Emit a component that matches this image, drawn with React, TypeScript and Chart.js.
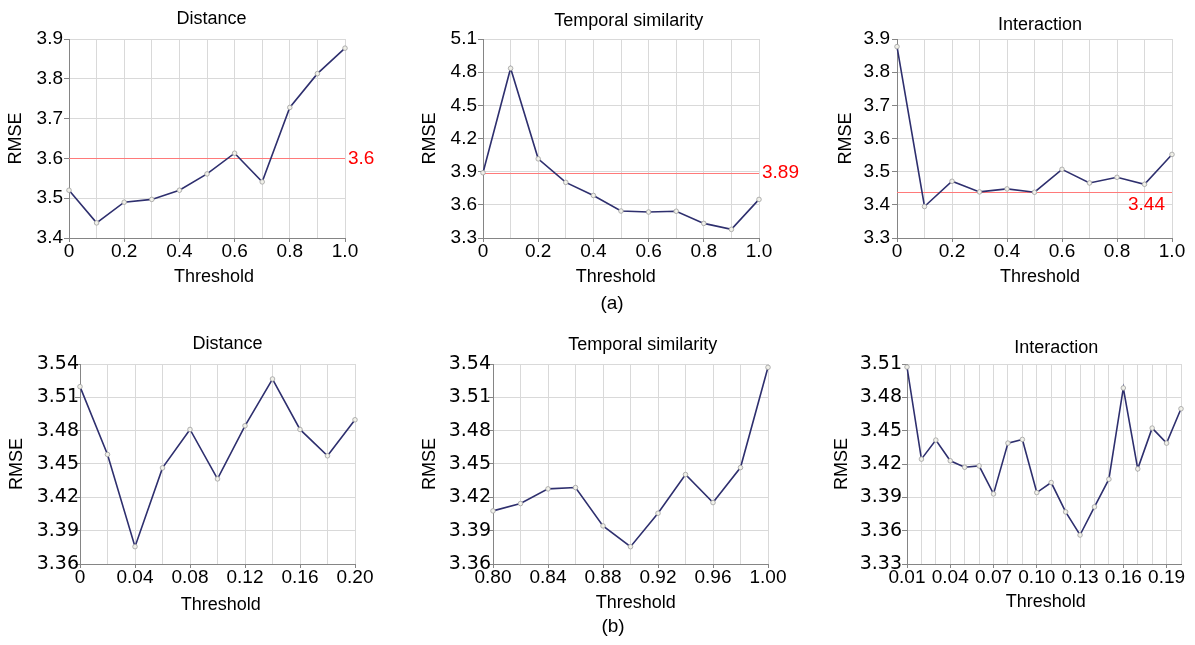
import React, { useEffect, useRef } from 'react';
import { Chart, registerables } from 'chart.js';

Chart.register(...registerables);

const FONT = '"Liberation Sans", Arial, Helvetica, sans-serif';
const WIDE_FONT = '"DejaVu Sans", "Liberation Sans", sans-serif';

// ---------- data: row (a) ----------
const thresholdsA = ['0', '0.1', '0.2', '0.3', '0.4', '0.5', '0.6', '0.7', '0.8', '0.9', '1.0'];
const tickLabelsA = ['0', '0.2', '0.4', '0.6', '0.8', '1.0'];
const distanceA = [3.52, 3.438, 3.49, 3.497, 3.52, 3.561, 3.613, 3.541, 3.728, 3.813, 3.877];
const temporalA = [3.89, 4.835, 4.016, 3.803, 3.685, 3.544, 3.535, 3.542, 3.432, 3.378, 3.649];
const interactionA = [3.877, 3.395, 3.471, 3.439, 3.448, 3.438, 3.507, 3.466, 3.483, 3.462, 3.552];
const referenceA = [3.6, 3.89, 3.44];

// ---------- data: row (b) ----------
const thresholdsDistB = ['0', '0.02', '0.04', '0.06', '0.08', '0.10', '0.12', '0.14', '0.16', '0.18', '0.20'];
const tickLabelsDistB = ['0', '0.04', '0.08', '0.12', '0.16', '0.20'];
const distanceB = [3.5196, 3.4586, 3.3756, 3.4465, 3.4811, 3.4366, 3.4844, 3.5265, 3.4811, 3.4574, 3.4898];

const thresholdsTempB = ['0.80', '0.82', '0.84', '0.86', '0.88', '0.90', '0.92', '0.94', '0.96', '0.98', '1.00'];
const tickLabelsTempB = ['0.80', '0.84', '0.88', '0.92', '0.96', '1.00'];
const temporalB = [3.4078, 3.4144, 3.4276, 3.4288, 3.3943, 3.3756, 3.4057, 3.4405, 3.4153, 3.4468, 3.537];

const thresholdsIntB = ['0.01', '0.02', '0.03', '0.04', '0.05', '0.06', '0.07', '0.08', '0.09', '0.10',
  '0.11', '0.12', '0.13', '0.14', '0.15', '0.16', '0.17', '0.18', '0.19', '0.20'];
const tickLabelsIntB = ['0.01', '0.04', '0.07', '0.10', '0.13', '0.16', '0.19'];
const interactionB = [3.5073, 3.4244, 3.4415, 3.4229, 3.4171, 3.4183, 3.3931, 3.4388, 3.4421, 3.3943,
  3.4033, 3.3769, 3.3561, 3.3814, 3.4063, 3.4884, 3.4156, 3.4523, 3.4388, 3.4697];

const panelTitles = ['Distance', 'Temporal similarity', 'Interaction'];
const xAxisTitle = 'Threshold';
const yAxisTitle = 'RMSE';
const subLabels = ['(a)', '(b)'];

type Panel = {
  title: string;
  labels: string[];
  shown: string[];
  values: number[];
  yMin: number; yMax: number; yStep: number; yDigits: number;
  ref?: number; refPos?: 'right' | 'below';
  yFont: string; yPad: number;
  // geometry (page px)
  cl: number; ct: number; cw: number; ch: number;
  pl: number; pt: number; pr: number; pb: number;
  yTitleX: number; xTitleX: number; xTitleY: number; titleX: number; titleY: number;
};

const panels: Panel[] = [
  {
    title: panelTitles[0], labels: thresholdsA, shown: tickLabelsA, values: distanceA,
    yMin: 3.4, yMax: 3.9, yStep: 0.1, yDigits: 1, ref: referenceA[0], refPos: 'right',
    yFont: FONT, yPad: 1,
    cl: 0, ct: 0, cw: 400, ch: 300, pl: 69, pt: 39, pr: 345, pb: 238,
    yTitleX: 15.8, xTitleX: 214, xTitleY: 277.3, titleX: 211.5, titleY: 18.7,
  },
  {
    title: panelTitles[1], labels: thresholdsA, shown: tickLabelsA, values: temporalA,
    yMin: 3.3, yMax: 5.1, yStep: 0.3, yDigits: 1, ref: referenceA[1], refPos: 'right',
    yFont: FONT, yPad: 1,
    cl: 405, ct: 0, cw: 395, ch: 300, pl: 483, pt: 39, pr: 759, pb: 238,
    yTitleX: 430, xTitleX: 615.8, xTitleY: 277.3, titleX: 628.8, titleY: 21,
  },
  {
    title: panelTitles[2], labels: thresholdsA, shown: tickLabelsA, values: interactionA,
    yMin: 3.3, yMax: 3.9, yStep: 0.1, yDigits: 1, ref: referenceA[2], refPos: 'below',
    yFont: FONT, yPad: 2,
    cl: 815, ct: 0, cw: 380, ch: 300, pl: 897, pt: 39, pr: 1172, pb: 238,
    yTitleX: 845.8, xTitleX: 1040, xTitleY: 277, titleX: 1040, titleY: 25,
  },
  {
    title: panelTitles[0], labels: thresholdsDistB, shown: tickLabelsDistB, values: distanceB,
    yMin: 3.36, yMax: 3.54, yStep: 0.03, yDigits: 2,
    yFont: WIDE_FONT, yPad: -4,
    cl: 0, ct: 320, cw: 400, ch: 325, pl: 80, pt: 364, pr: 355, pb: 564,
    yTitleX: 17.5, xTitleX: 220.8, xTitleY: 605, titleX: 227.5, titleY: 343.7,
  },
  {
    title: panelTitles[1], labels: thresholdsTempB, shown: tickLabelsTempB, values: temporalB,
    yMin: 3.36, yMax: 3.54, yStep: 0.03, yDigits: 2,
    yFont: WIDE_FONT, yPad: -3,
    cl: 405, ct: 320, cw: 395, ch: 325, pl: 493, pt: 364, pr: 768, pb: 564,
    yTitleX: 430.3, xTitleX: 635.8, xTitleY: 603.3, titleX: 642.8, titleY: 345.3,
  },
  {
    title: panelTitles[2], labels: thresholdsIntB, shown: tickLabelsIntB, values: interactionB,
    yMin: 3.33, yMax: 3.51, yStep: 0.03, yDigits: 2,
    yFont: WIDE_FONT, yPad: 0,
    cl: 815, ct: 320, cw: 380, ch: 325, pl: 907, pt: 364, pr: 1181, pb: 564,
    yTitleX: 842.5, xTitleX: 1045.8, xTitleY: 602.5, titleX: 1056.3, titleY: 348.3,
  },
];

const AXIS_COLOR = '#858585';
const GRID_COLOR = '#d9d9d9';
const LINE_COLOR = '#2e2f6e';
const REF_LINE = '#ff7a7a';
const REF_TEXT = '#ff0000';
const TICK_SIZE = 19;
const TITLE_SIZE = 18;
const LH = TITLE_SIZE * 1.2;

const decorPlugin = {
  id: 'decor',
  beforeDatasetsDraw(chart: any, _a: any, opts: any) {
    if (opts.ref == null) return;
    const { ctx, chartArea } = chart;
    const y = Math.round(chart.scales.y.getPixelForValue(opts.ref)) + 0.5;
    ctx.save();
    ctx.strokeStyle = REF_LINE;
    ctx.lineWidth = 1;
    ctx.beginPath();
    ctx.moveTo(chartArea.left, y);
    ctx.lineTo(chartArea.right, y);
    ctx.stroke();
    ctx.restore();
  },
  afterDraw(chart: any, _a: any, opts: any) {
    const { ctx, chartArea } = chart;
    ctx.save();
    ctx.fillStyle = '#000';
    ctx.font = `${TITLE_SIZE}px ${FONT}`;
    ctx.textAlign = 'center';
    ctx.textBaseline = 'middle';
    ctx.fillText(opts.title, opts.titleX, opts.titleY);
    ctx.fillText(opts.xTitle, opts.xTitleX, opts.xTitleY);
    if (opts.ref != null) {
      const y = chart.scales.y.getPixelForValue(opts.ref);
      ctx.fillStyle = REF_TEXT;
      ctx.font = `${TICK_SIZE}px ${FONT}`;
      if (opts.refPos === 'right') {
        ctx.textAlign = 'left';
        ctx.fillText(String(opts.ref), chartArea.right + 3, y);
      } else {
        ctx.textAlign = 'right';
        ctx.fillText(String(opts.ref), chartArea.right - 7, y + 13);
      }
    }
    ctx.restore();
  },
};

function PanelChart({ p }: { p: Panel }) {
  const ref = useRef<HTMLCanvasElement | null>(null);
  useEffect(() => {
    if (!ref.current) return;
    const yW = p.pl - p.cl;
    const xH = p.ct + p.ch - p.pb;
    const chart = new Chart(ref.current, {
      type: 'line',
      data: {
        labels: p.labels,
        datasets: [
          {
            data: p.values,
            borderColor: LINE_COLOR,
            borderWidth: 1.6,
            tension: 0,
            pointRadius: 2.3,
            pointBackgroundColor: '#efefe8',
            pointBorderColor: '#a0a0a0',
            pointBorderWidth: 0.8,
            clip: false as any,
          },
        ],
      },
      plugins: [decorPlugin as any],
      options: {
        responsive: false,
        animation: false,
        events: [],
        layout: {
          padding: { top: p.pt - p.ct, right: p.cl + p.cw - p.pr, left: 0, bottom: 0 },
        },
        plugins: {
          legend: { display: false },
          tooltip: { enabled: false },
          title: { display: false },
          decor: {
            title: p.title,
            titleX: p.titleX - p.cl,
            titleY: p.titleY - p.ct,
            xTitle: xAxisTitle,
            xTitleX: p.xTitleX - p.cl,
            xTitleY: p.xTitleY - p.ct,
            ref: p.ref,
            refPos: p.refPos,
          },
        } as any,
        scales: {
          x: {
            type: 'category',
            offset: false,
            afterFit: (s: any) => { s.height = xH; },
            border: { color: AXIS_COLOR, width: 1 },
            grid: {
              color: GRID_COLOR,
              tickLength: 4,
              tickColor: (c: any) => (c.tick && c.tick.label ? AXIS_COLOR : 'rgba(0,0,0,0)'),
            },
            ticks: {
              autoSkip: false,
              maxRotation: 0,
              padding: -2,
              color: '#000',
              font: { family: FONT, size: TICK_SIZE },
              callback: (_v: any, i: number) => (p.shown.includes(p.labels[i]) ? p.labels[i] : ''),
            },
            title: { display: false },
          },
          y: {
            type: 'linear',
            min: p.yMin,
            max: p.yMax,
            afterFit: (s: any) => { s.width = yW; },
            border: { color: AXIS_COLOR, width: 1 },
            grid: { color: GRID_COLOR, tickLength: 5, tickColor: AXIS_COLOR },
            ticks: {
              stepSize: p.yStep,
              padding: p.yPad,
              color: '#000',
              font: { family: p.yFont, size: TICK_SIZE },
              callback: (v: any) => Number(v).toFixed(p.yDigits),
            },
            title: {
              display: true,
              text: yAxisTitle,
              color: '#000',
              font: { family: FONT, size: TITLE_SIZE },
              padding: { top: p.yTitleX - p.cl - LH / 2, bottom: 0 },
            },
          },
        },
      } as any,
    });
    return () => chart.destroy();
  }, [p]);
  return (
    <div style={{ position: 'absolute', left: p.cl, top: p.ct, width: p.cw, height: p.ch }}>
      <canvas ref={ref} width={p.cw} height={p.ch} style={{ width: p.cw, height: p.ch, display: 'block' }} />
    </div>
  );
}

export default function App() {
  return (
    <div
      style={{
        position: 'fixed', left: 0, top: 0, width: 1195, height: 645,
        background: '#fff', overflow: 'hidden', fontFamily: FONT,
      }}
    >
      {panels.map((p, i) => <PanelChart key={i} p={p} />)}
      <div style={{ position: 'absolute', left: 562, width: 100, top: 291, textAlign: 'center', fontSize: 19, lineHeight: '24px', color: '#000' }}>{subLabels[0]}</div>
      <div style={{ position: 'absolute', left: 563, width: 100, top: 614, textAlign: 'center', fontSize: 19, lineHeight: '24px', color: '#000' }}>{subLabels[1]}</div>
    </div>
  );
}
